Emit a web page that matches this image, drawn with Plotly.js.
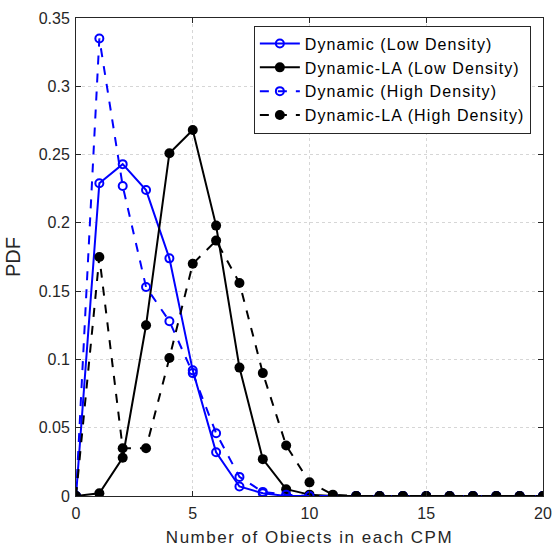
<!DOCTYPE html>
<html>
<head>
<meta charset="utf-8">
<script src="https://cdn.plot.ly/plotly-3.0.1.min.js"></script>
<style>
html,body{margin:0;padding:0;background:#fff;}
#chart{width:553px;height:548px;}
.legendtext{letter-spacing:1.1px;}
.xtitle{letter-spacing:1.5px;}
</style>
</head>
<body>
<div id="chart"></div>
<script>
const xValues = [0,1,2,3,4,5,6,7,8,9,10,11,12,13,14,15,16,17,18,19,20];
const dynamicLow    = [0,0.229,0.243,0.224,0.174,0.092,0.032,0.007,0.002,0,0,0,0,0,0,0,0,0,0,0,0];
const dynamicLALow  = [0,0.002,0.028,0.125,0.251,0.268,0.198,0.094,0.027,0.005,0.001,0,0,0,0,0,0,0,0,0,0];
const dynamicHigh   = [0,0.335,0.227,0.153,0.128,0.090,0.046,0.014,0.003,0.001,0,0,0,0,0,0,0,0,0,0,0];
const dynamicLAHigh = [0,0.175,0.035,0.035,0.101,0.170,0.187,0.156,0.090,0.037,0.010,0.001,0,0,0,0,0,0,0,0,0];
const seriesNames = ["Dynamic (Low Density)","Dynamic-LA (Low Density)","Dynamic (High Density)","Dynamic-LA (High Density)"];
const xTicks = [0,5,10,15,20];
const yTicks = [0,0.05,0.1,0.15,0.2,0.25,0.3,0.35];
const xTitle = "Number of Obiects in each CPM";
const yTitle = "PDF";

const blue = "#0000ff", black = "#000000";
const FONT = "'Liberation Sans', Arial, sans-serif";
const traces = [
  {x:xValues, y:dynamicLow, name:seriesNames[0], mode:"lines+markers",
   line:{color:blue,width:2,dash:"solid"},
   marker:{symbol:"circle-open",size:8,color:blue,line:{width:2,color:blue}}},
  {x:xValues, y:dynamicLALow, name:seriesNames[1], mode:"lines+markers",
   line:{color:black,width:2,dash:"solid"},
   marker:{symbol:"circle",size:10,color:black}},
  {x:xValues, y:dynamicHigh, name:seriesNames[2], mode:"lines+markers",
   line:{color:blue,width:2,dash:"dash"},
   marker:{symbol:"circle-open",size:8,color:blue,line:{width:2,color:blue}}},
  {x:xValues, y:dynamicLAHigh, name:seriesNames[3], mode:"lines+markers",
   line:{color:black,width:2,dash:"dash"},
   marker:{symbol:"circle",size:10,color:black}}
];

const axisCommon = {
  showline:true, linecolor:"#262626", linewidth:1, mirror:"ticks",
  ticks:"inside", ticklen:5, tickcolor:"#262626", tickwidth:1,
  showgrid:true, gridcolor:"#d6d6d6", griddash:"dot", gridwidth:1,
  zeroline:false,
  tickfont:{family:FONT, size:16, color:"#262626"}
};

const layout = {
  width:553, height:548,
  margin:{l:76, r:10, t:18, b:52},
  paper_bgcolor:"#ffffff", plot_bgcolor:"#ffffff",
  font:{family:FONT, color:"#262626"},
  xaxis:Object.assign({}, axisCommon, {
    range:[0,20], tickvals:xTicks, ticktext:xTicks.map(String),
    ticklabelstandoff:3,
    title:{text:xTitle, font:{size:17, color:"#262626"}, standoff:9}
  }),
  yaxis:Object.assign({}, axisCommon, {
    range:[0,0.35], tickvals:yTicks, ticktext:yTicks.map(String),
    ticklabelstandoff:2,
    title:{text:yTitle, font:{size:20, color:"#262626"}, standoff:12}
  }),
  showlegend:true,
  legend:{x:0.974, y:0.984, xanchor:"right", yanchor:"top",
    bgcolor:"#ffffff", bordercolor:"#262626", borderwidth:1,
    font:{family:FONT, size:16, color:"#000000"},
    itemwidth:40, tracegroupgap:0}
};

Plotly.newPlot("chart", traces, layout, {displayModeBar:false, staticPlot:true});
</script>
</body>
</html>
